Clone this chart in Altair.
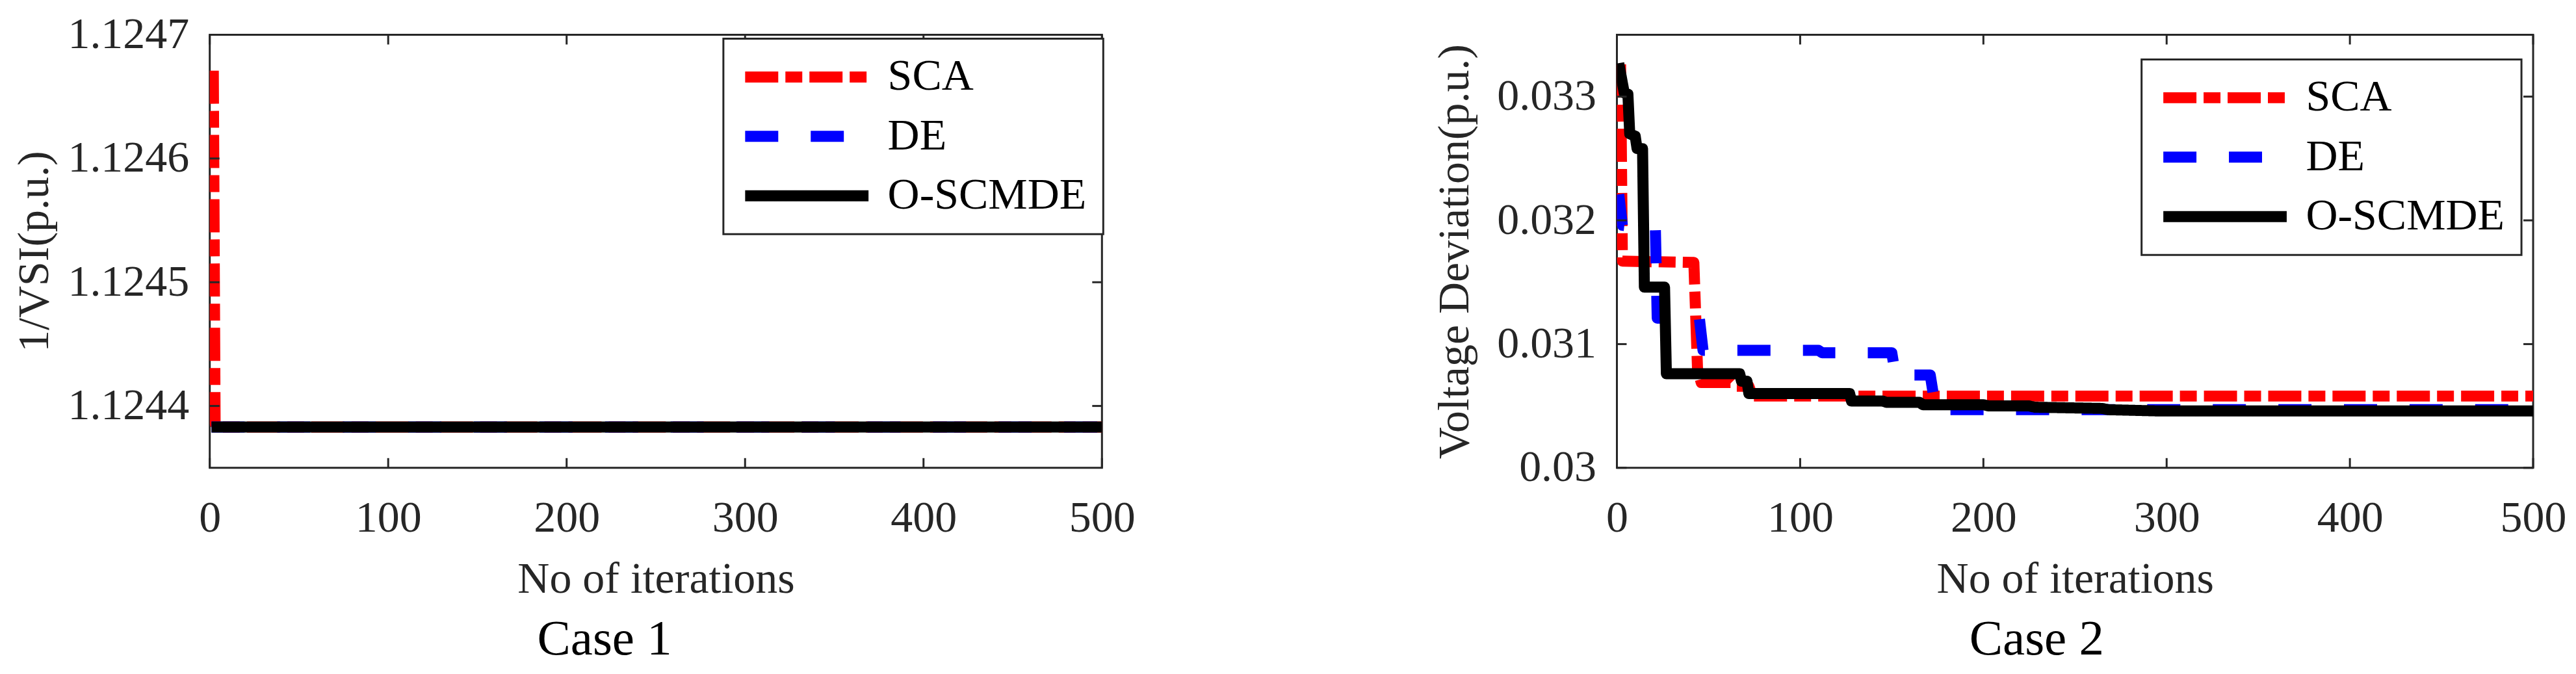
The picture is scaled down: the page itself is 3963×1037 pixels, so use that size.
import altair as alt
import pandas as pd

SERIES = ["SCA", "DE", "O-SCMDE"]
COLORS = ["#ff0000", "#0000ff", "#000000"]
DASHES = [[51, 11, 26, 11], [51, 50], [1, 0]]
X_TICKS = [0, 100, 200, 300, 400, 500]

# ---- Case 1 : 1/VSI(p.u.) ----
c1_sca_iter = [2, 3, 6, 500]
c1_sca_val = [1.124671, 1.124386, 1.124383, 1.124383]
c1_de_iter = [1, 500]
c1_de_val = [1.124383, 1.124383]
c1_os_iter = [1, 500]
c1_os_val = [1.124383, 1.124383]
c1_yticks = [1.1244, 1.1245, 1.1246, 1.1247]

# ---- Case 2 : Voltage Deviation(p.u.) ----
c2_sca_iter = [2, 3, 42, 44, 46, 62, 64, 72, 74, 500]
c2_sca_val = [0.03326, 0.03167, 0.03166, 0.03080, 0.03069, 0.03069,
              0.03066, 0.03066, 0.03058, 0.03058]
c2_de_iter = [1, 3, 21, 22, 45, 47, 110, 112, 150, 152, 171, 174, 500]
c2_de_val = [0.03221, 0.03196, 0.03193, 0.03121, 0.03121, 0.03095, 0.03095,
             0.03093, 0.03093, 0.03075, 0.03075, 0.03047, 0.03047]
c2_os_iter = [1, 4, 6, 7, 10, 11, 14, 15, 26, 27, 67, 68, 71, 72, 127, 128,
              145, 147, 165, 167, 200, 203, 225, 228, 265, 268, 295, 500]
c2_os_val = [0.03327, 0.03303, 0.03302, 0.03270, 0.03268, 0.03258, 0.03258,
             0.03146, 0.03146, 0.03076, 0.03076, 0.03070, 0.03070, 0.03060,
             0.03060, 0.03054, 0.03054, 0.03053, 0.03053, 0.03051, 0.03051,
             0.03050, 0.03050, 0.03049, 0.03048, 0.03047, 0.03046, 0.03046]
c2_yticks = [0.030, 0.031, 0.032, 0.033]

FONT = "Liberation Serif"
AX = "#262626"
H = 667


def panel(data, ydom, yticks, ylabel_expr, ytitle, W, case, lx, ly, ytitle_pad, case_dx):
    rows = []
    for s, (its, vs) in zip(SERIES, data):
        for i, v in zip(its, vs):
            rows.append({"series": s, "iter": i, "val": v})
    df = pd.DataFrame(rows)

    xsc = alt.Scale(domain=[0, 500], nice=False, zero=False)
    ysc = alt.Scale(domain=ydom, nice=False, zero=False)
    xaxis = alt.Axis(values=X_TICKS, title="No of iterations", labelPadding=44,
                     labelFlush=False, labelOverlap=False, titlePadding=26)
    yaxis = alt.Axis(values=yticks, title=ytitle, labelPadding=32,
                     labelExpr=ylabel_expr, labelOverlap=False, titlePadding=ytitle_pad)
    leg = alt.Legend(title=None, orient="none", legendX=lx, legendY=ly,
                     symbolType="stroke", symbolSize=36100, symbolStrokeWidth=17,
                     clipHeight=68, rowPadding=23.5, labelOffset=21, padding=25,
                     labelFont=FONT, labelFontSize=68, labelColor="#000000", labelLimit=0,
                     strokeColor=AX, fillColor="#ffffff")
    X = alt.X("iter:Q", scale=xsc, axis=xaxis)
    Y = alt.Y("val:Q", scale=ysc, axis=yaxis)
    layers = []
    for s in SERIES:
        layers.append(
            alt.Chart(df)
            .transform_filter(alt.datum.series == s)
            .mark_line(strokeWidth=17, strokeCap="butt", strokeJoin="round", clip=True)
            .encode(
                x=X, y=Y,
                color=alt.Color("series:N", scale=alt.Scale(domain=SERIES, range=COLORS), legend=leg),
                strokeDash=alt.StrokeDash("series:N", scale=alt.Scale(domain=SERIES, range=DASHES), legend=leg),
            )
        )
    xt = pd.DataFrame({"iter": X_TICKS})
    yt = pd.DataFrame({"val": yticks})
    rule = dict(color=AX, strokeWidth=3)
    layers += [
        alt.Chart(xt).mark_rule(**rule).encode(x=X, y=alt.value(H), y2=alt.value(H - 15)),
        alt.Chart(xt).mark_rule(**rule).encode(x=X, y=alt.value(0), y2=alt.value(15)),
        alt.Chart(yt).mark_rule(**rule).encode(y=Y, x=alt.value(0), x2=alt.value(15)),
        alt.Chart(yt).mark_rule(**rule).encode(y=Y, x=alt.value(W - 15), x2=alt.value(W)),
    ]
    return alt.layer(*layers).properties(
        width=W, height=H,
        title=alt.TitleParams(case, orient="bottom", anchor="middle", frame="group",
                              dx=case_dx, offset=20, fontSize=77, font=FONT,
                              fontWeight="normal", color="#000000"),
    )


left = panel([(c1_sca_iter, c1_sca_val), (c1_de_iter, c1_de_val), (c1_os_iter, c1_os_val)],
             [1.12435, 1.1247], c1_yticks, "format(datum.value, '.4f')", "1/VSI(p.u.)",
             1374, "Case 1", 791, 6, 35, -79)
right = panel([(c2_sca_iter, c2_sca_val), (c2_de_iter, c2_de_val), (c2_os_iter, c2_os_val)],
              [0.030, 0.0335], c2_yticks, "format(datum.value, '~g')", "Voltage Deviation(p.u.)",
              1411, "Case 2", 808, 38, 30, -59)

chart = (
    alt.hconcat(left, right, spacing=455)
    .resolve_scale(x="independent", y="independent", color="independent", strokeDash="independent")
    .resolve_legend(color="independent", strokeDash="independent")
    .properties(padding={"left": 10, "top": 9, "right": 5, "bottom": 5}, background="#ffffff")
    .configure_view(stroke=AX, strokeWidth=3)
    .configure_axis(grid=False, domain=False, ticks=False, labelLimit=0,
                    labelFont=FONT, labelFontSize=68, labelColor=AX,
                    titleFont=FONT, titleFontSize=68, titleFontWeight="normal", titleColor=AX)
    .configure_legend(strokeWidth=3)
)

chart.save("out.html", embed_options={"renderer": "svg", "actions": False})
